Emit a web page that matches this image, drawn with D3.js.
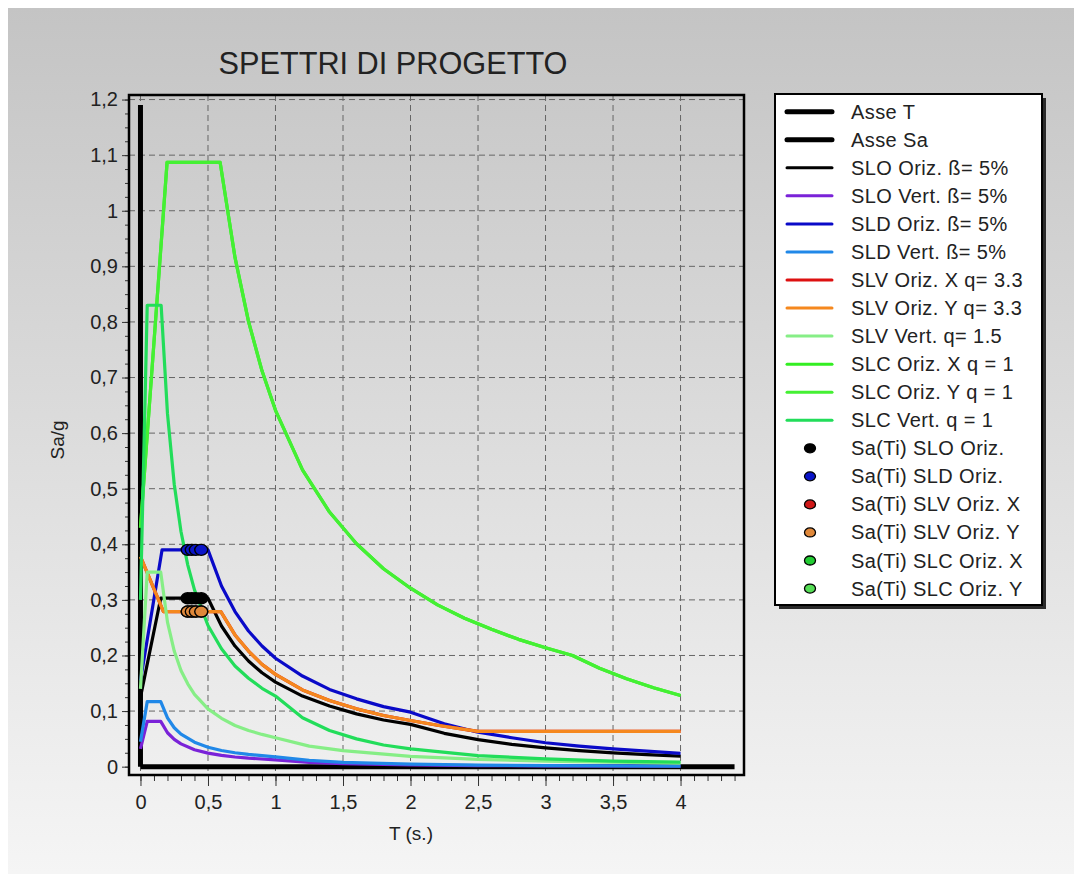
<!DOCTYPE html>
<html>
<head>
<meta charset="utf-8">
<script src="https://cdn.jsdelivr.net/npm/d3@7"></script>
<style>
  body { margin: 0; background: #fff; }
  svg { display: block; font-family: "Liberation Sans", Arial, sans-serif; }
</style>
</head>
<body>
<div id="chart"></div>
<script>
// Spectra: [T (s), Sa/g]
const sloOriz = [[0,0.125],[0.15,0.303],[0.5,0.303],[0.6,0.253],[0.7,0.217],[0.8,0.19],[0.9,0.169],[1.0,0.152],
  [1.2,0.127],[1.4,0.109],[1.6,0.095],[1.8,0.084],[2.0,0.076],[2.25,0.06],[2.5,0.0486],[2.75,0.04],[3.0,0.0338],
  [3.25,0.0288],[3.5,0.0248],[3.75,0.0216],[4.0,0.019]];
const sloVert = [[0,0.032],[0.05,0.0815],[0.15,0.0815],[0.2,0.061],[0.25,0.049],[0.3,0.041],[0.4,0.0305],[0.5,0.0244],
  [0.6,0.0203],[0.7,0.0174],[0.8,0.0153],[1.0,0.0122],[1.25,0.0078],[1.5,0.0054],[2.0,0.003],[2.5,0.002],[3.0,0.0014],[4.0,0.0008]];
const sldOriz = [[0,0.155],[0.16,0.39],[0.5,0.39],[0.6,0.325],[0.7,0.279],[0.8,0.244],[0.9,0.217],[1.0,0.195],
  [1.2,0.163],[1.4,0.139],[1.6,0.122],[1.8,0.108],[2.0,0.098],[2.25,0.077],[2.5,0.062],[2.75,0.052],[3.0,0.043],
  [3.25,0.037],[3.5,0.032],[3.75,0.028],[4.0,0.024]];
const sldVert = [[0,0.045],[0.05,0.117],[0.15,0.117],[0.2,0.0878],[0.25,0.07],[0.3,0.0585],[0.4,0.044],[0.5,0.035],
  [0.6,0.029],[0.7,0.025],[0.8,0.022],[1.0,0.0176],[1.25,0.0112],[1.5,0.0078],[2.0,0.0044],[2.5,0.0028],[3.0,0.002],[4.0,0.0011]];
const slvOriz = [[0,0.378],[0.17,0.279],[0.595,0.279],[0.7,0.237],[0.8,0.208],[0.9,0.184],[1.0,0.166],[1.2,0.138],
  [1.4,0.119],[1.6,0.104],[1.8,0.092],[2.0,0.083],[2.2,0.0745],[2.4,0.067],[2.5,0.0635],[4.0,0.0635]];
const slvVert = [[0,0.14],[0.05,0.35],[0.15,0.35],[0.2,0.26],[0.25,0.208],[0.3,0.173],[0.35,0.149],[0.4,0.13],[0.5,0.104],
  [0.6,0.087],[0.7,0.074],[0.8,0.065],[0.9,0.058],[1.0,0.052],[1.25,0.037],[1.5,0.029],[2.0,0.0185],[2.5,0.013],
  [3.0,0.01],[3.5,0.008],[4.0,0.0065]];
const slcOriz = [[0,0.43],[0.197,1.087],[0.59,1.087],[0.7,0.916],[0.8,0.801],[0.9,0.712],[1.0,0.641],[1.2,0.534],
  [1.4,0.458],[1.6,0.401],[1.8,0.356],[2.0,0.321],[2.2,0.291],[2.4,0.267],[2.6,0.247],[2.8,0.229],[3.0,0.214],
  [3.2,0.2],[3.4,0.177],[3.6,0.158],[3.8,0.142],[4.0,0.128]];
const slcVert = [[0,0.3],[0.05,0.83],[0.153,0.83],[0.2,0.635],[0.25,0.508],[0.3,0.423],[0.35,0.363],[0.4,0.318],
  [0.5,0.254],[0.6,0.212],[0.7,0.181],[0.8,0.159],[0.9,0.141],[1.0,0.127],[1.2,0.088],[1.4,0.065],[1.6,0.05],
  [1.8,0.039],[2.0,0.032],[2.5,0.02],[3.0,0.014],[3.5,0.01],[4.0,0.008]];

// Sa(Ti) points
const tiPeriods = [0.35, 0.38, 0.41, 0.45];
const saTiSLO = 0.303;
const saTiSLD = 0.39;
const saTiSLV = 0.279;

const axisT = [[0, 0], [4.4, 0]];
const axisSa = [[0, 0], [0, 1.19]];

const xTickValues = [0, 0.5, 1, 1.5, 2, 2.5, 3, 3.5, 4];
const yTickValues = [0, 0.1, 0.2, 0.3, 0.4, 0.5, 0.6, 0.7, 0.8, 0.9, 1, 1.1, 1.2];

const series = [
  { name: "Asse T", data: axisT, color: "#000", width: 5 },
  { name: "Asse Sa", data: axisSa, color: "#000", width: 5 },
  { name: "SLO Oriz. ß= 5%", data: sloOriz, color: "#000000", width: 3.2 },
  { name: "SLO Vert. ß= 5%", data: sloVert, color: "#7a22d8", width: 3.2 },
  { name: "SLD Oriz. ß= 5%", data: sldOriz, color: "#0a0ac8", width: 3.2 },
  { name: "SLD Vert. ß= 5%", data: sldVert, color: "#2088e8", width: 3.2 },
  { name: "SLV Oriz. X q= 3.3", data: slvOriz, color: "#dd1010", width: 3.2 },
  { name: "SLV Oriz. Y q= 3.3", data: slvOriz, color: "#f5881e", width: 3.2 },
  { name: "SLV Vert. q= 1.5", data: slvVert, color: "#86ee86", width: 3.2 },
  { name: "SLC Oriz. X q = 1", data: slcOriz, color: "#33ee22", width: 3.2 },
  { name: "SLC Oriz. Y q = 1", data: slcOriz, color: "#44f033", width: 3.2 },
  { name: "SLC Vert. q = 1", data: slcVert, color: "#22dd5a", width: 3.2 }
];

const dotSeries = [
  { name: "Sa(Ti) SLO Oriz.", sa: saTiSLO, color: "#000000", show: true },
  { name: "Sa(Ti) SLD Oriz.", sa: saTiSLD, color: "#0a14c8", show: true },
  { name: "Sa(Ti) SLV Oriz. X", sa: saTiSLV, color: "#d01818", show: true },
  { name: "Sa(Ti) SLV Oriz. Y", sa: saTiSLV, color: "#e0883a", show: true },
  { name: "Sa(Ti) SLC Oriz. X", sa: null, color: "#22cc33", show: false },
  { name: "Sa(Ti) SLC Oriz. Y", sa: null, color: "#55dd55", show: false }
];

const W = 1074, H = 874;
const svg = d3.select("#chart").append("svg").attr("width", W).attr("height", H);

const defs = svg.append("defs");
const grad = defs.append("linearGradient").attr("id", "bg")
  .attr("gradientUnits", "userSpaceOnUse")
  .attr("x1", 0).attr("y1", 8).attr("x2", 0).attr("y2", H);
grad.append("stop").attr("offset", 0).attr("stop-color", "#c4c4c4");
grad.append("stop").attr("offset", 1).attr("stop-color", "#f5f5f5");

svg.append("rect").attr("x", 8).attr("y", 8).attr("width", W - 8).attr("height", H - 8)
  .attr("fill", "url(#bg)");

const plotLeft = 129, plotRight = 744, plotTop = 95, plotBottom = 775;
const x = d3.scaleLinear().domain([-0.085, 4.47]).range([plotLeft, plotRight]);
const y = d3.scaleLinear().domain([-0.015, 1.21]).range([plotBottom, 94]);

// title
svg.append("text")
  .attr("x", 393).attr("y", 74)
  .attr("text-anchor", "middle")
  .attr("font-size", 31)
  .attr("fill", "#222")
  .attr("textLength", 349)
  .attr("lengthAdjust", "spacingAndGlyphs")
  .text("SPETTRI DI PROGETTO");

// grid
const grid = svg.append("g");
grid.selectAll(".gx").data(xTickValues).enter().append("line")
  .attr("x1", d => x(d)).attr("x2", d => x(d))
  .attr("y1", plotTop).attr("y2", plotBottom)
  .attr("stroke", "#666").attr("stroke-width", 1).attr("stroke-dasharray", "6,4");
grid.selectAll(".gy").data(yTickValues.slice(1)).enter().append("line")
  .attr("x1", plotLeft).attr("x2", plotRight)
  .attr("y1", d => y(d)).attr("y2", d => y(d))
  .attr("stroke", "#666").attr("stroke-width", 1).attr("stroke-dasharray", "6,4");

// axes
const fmt = d => String(d).replace(".", ",");
const xMinor = [];
for (let i = 0; i <= 44; i++) xMinor.push(i / 10);
const yMinor = [];
for (let i = 0; i <= 48; i++) yMinor.push(i / 40);

const xAxisMinor = svg.append("g").attr("transform", `translate(0,${plotBottom})`)
  .call(d3.axisBottom(x).tickValues(xMinor).tickSize(6).tickFormat(""));
const xAxis = svg.append("g").attr("transform", `translate(0,${plotBottom})`)
  .call(d3.axisBottom(x).tickValues(xTickValues).tickSize(11).tickPadding(9).tickFormat(fmt));
const yAxisMinor = svg.append("g").attr("transform", `translate(${plotLeft},0)`)
  .call(d3.axisLeft(y).tickValues(yMinor).tickSize(4).tickFormat(""));
const yAxis = svg.append("g").attr("transform", `translate(${plotLeft},0)`)
  .call(d3.axisLeft(y).tickValues(yTickValues).tickSize(7).tickPadding(4).tickFormat(fmt));

[xAxisMinor, xAxis, yAxisMinor, yAxis].forEach(a => {
  a.select(".domain").remove();
  a.selectAll("line").attr("stroke", "#333");
  a.selectAll("text").attr("font-size", 20).attr("fill", "#222")
    .attr("font-family", "\"Liberation Sans\", Arial, sans-serif");
});

svg.append("text").attr("x", 411).attr("y", 840).attr("text-anchor", "middle")
  .attr("font-size", 19).attr("fill", "#222").text("T (s.)");
svg.append("text").attr("transform", "translate(64,440) rotate(-90)")
  .attr("text-anchor", "middle").attr("font-size", 19).attr("fill", "#222").text("Sa/g");

// frame
svg.append("rect").attr("x", plotLeft).attr("y", plotTop)
  .attr("width", plotRight - plotLeft).attr("height", plotBottom - plotTop)
  .attr("fill", "none").attr("stroke", "#000").attr("stroke-width", 2.5);

// curves
const line = d3.line().x(d => x(d[0])).y(d => y(d[1]));
svg.append("g").selectAll("path").data(series).enter().append("path")
  .attr("d", d => line(d.data))
  .attr("fill", "none")
  .attr("stroke", d => d.color)
  .attr("stroke-width", d => d.width)
  .attr("stroke-linejoin", "round");

// Sa(Ti) dots
dotSeries.filter(s => s.show).forEach(s => {
  svg.append("g").selectAll("ellipse").data(tiPeriods).enter().append("ellipse")
    .attr("cx", d => x(d)).attr("cy", y(s.sa))
    .attr("rx", 6.5).attr("ry", 5.5)
    .attr("fill", s.color).attr("stroke", "#000").attr("stroke-width", 1.4);
});

// legend
const lx = 775, ly = 94, lw = 267, lh = 511;
svg.append("rect").attr("x", lx + 4).attr("y", ly + 4).attr("width", lw).attr("height", lh)
  .attr("fill", "#2a2a2a");
svg.append("rect").attr("x", lx).attr("y", ly).attr("width", lw).attr("height", lh)
  .attr("fill", "#fff").attr("stroke", "#000").attr("stroke-width", 2);

const legendItems = series.map(s => ({ name: s.name, color: s.color, width: s.width, kind: "line" }))
  .concat(dotSeries.map(s => ({ name: s.name, color: s.color, kind: "dot" })));

const rowH = 28.05;
const items = svg.append("g").selectAll("g").data(legendItems).enter().append("g")
  .attr("transform", (d, i) => `translate(0,${111.7 + i * rowH})`);

items.filter(d => d.kind === "line").append("line")
  .attr("x1", 787).attr("x2", 832).attr("y1", 0).attr("y2", 0)
  .attr("stroke", d => d.color).attr("stroke-width", d => d.width === 5 ? 5 : 3)
  .attr("stroke-linecap", "round");
items.filter(d => d.kind === "dot").append("ellipse")
  .attr("cx", 810).attr("cy", 0).attr("rx", 5.5).attr("ry", 4.5)
  .attr("fill", d => d.color).attr("stroke", "#000").attr("stroke-width", 1.3);
items.append("text")
  .attr("x", 851).attr("y", 7)
  .attr("font-size", 20)
  .attr("letter-spacing", 0.4)
  .attr("fill", "#222")
  .text(d => d.name);
</script>
</body>
</html>
